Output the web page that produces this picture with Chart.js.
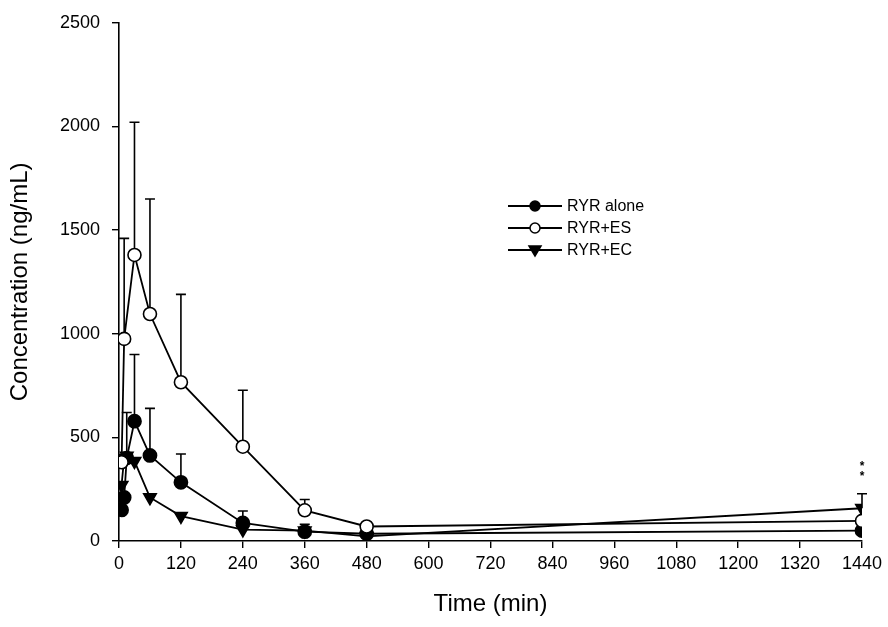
<!DOCTYPE html>
<html>
<head>
<meta charset="utf-8">
<script src="https://cdn.jsdelivr.net/npm/chart.js@4/dist/chart.umd.min.js"></script>
<style>
html, body { margin: 0; background: #fff; }
#wrap { width: 888px; height: 627px; }
</style>
</head>
<body>
<div id="wrap"><canvas id="pk"></canvas></div>
<script>
// sampling times (min)
var times = [5, 10, 15, 30, 60, 120, 240, 360, 480, 1440]

// mean concentrations (ng/mL)
var ryrAlone = [150, 210, 400, 578, 413, 283, 87, 45, 35, 50]
var ryrES    = [380, 975, null, 1380, 1095, 766, 455, 148, 70, 97]
var ryrEC    = [270, 400, 410, 385, 210, 120, 55, 50, 22, 158]

// top of the error bar (mean + SD)
var ryrAloneHi = [null, null, 620, 900, 640, 420, 145, 80, null, null]
var ryrESHi    = [null, 1460, null, 2020, 1650, 1190, 727, 200, null, null]
var ryrECHi    = [null, null, null, null, null, null, null, null, null, 228]

var yTicks = [0, 500, 1000, 1500, 2000, 2500]
var xTicks = [0, 120, 240, 360, 480, 600, 720, 840, 960, 1080, 1200, 1320, 1440]

function pts(vals) {
    var out = []
    for (var i = 0; i < times.length; i++) {
        if (vals[i] != null) out.push({x: times[i], y: vals[i]})
    }
    return out
}

var font = 'Liberation Sans, Arial, sans-serif'

var errorBars = {
    id: 'errorBars',
    beforeDatasetsDraw: function(chart) {
        var ctx = chart.ctx
        var xs = chart.scales.x, ys = chart.scales.y
        var sets = [[ryrAlone, ryrAloneHi], [ryrES, ryrESHi], [ryrEC, ryrECHi]]
        ctx.save()
        ctx.strokeStyle = '#000'
        ctx.lineWidth = 1.6
        sets.forEach(function(s) {
            for (var i = 0; i < times.length; i++) {
                if (s[1][i] == null || s[0][i] == null) continue
                var px = xs.getPixelForValue(times[i])
                var y0 = ys.getPixelForValue(s[0][i])
                var y1 = ys.getPixelForValue(s[1][i])
                ctx.beginPath()
                ctx.moveTo(px, y0)
                ctx.lineTo(px, y1)
                ctx.moveTo(px - 5, y1)
                ctx.lineTo(px + 5, y1)
                ctx.stroke()
            }
        })
        // significance mark
        var last = times.length - 1
        ctx.fillStyle = '#000'
        ctx.font = 'bold 12px ' + font
        ctx.textAlign = 'center'
        ctx.fillText('*', xs.getPixelForValue(times[last]), ys.getPixelForValue(ryrECHi[last]) - 24)
        ctx.fillText('*', xs.getPixelForValue(times[last]), ys.getPixelForValue(ryrECHi[last]) - 14)
        ctx.restore()
    }
}

var legendBox = {
    id: 'legendBox',
    afterDraw: function(chart) {
        var ctx = chart.ctx
        ctx.save()
        chart.data.datasets.forEach(function(ds, i) {
            var y = 206 + i * 22
            ctx.strokeStyle = '#000'
            ctx.lineWidth = 1.8
            ctx.beginPath()
            ctx.moveTo(508, y)
            ctx.lineTo(562, y)
            ctx.stroke()
            ctx.fillStyle = ds.pointBackgroundColor
            ctx.lineWidth = 1.5
            ctx.beginPath()
            if (ds.pointStyle === 'circle') {
                ctx.arc(535, y, 5, 0, Math.PI * 2)
            } else {
                ctx.moveTo(529, y - 4)
                ctx.lineTo(541, y - 4)
                ctx.lineTo(535, y + 6)
                ctx.closePath()
            }
            ctx.fill()
            ctx.stroke()
            ctx.fillStyle = '#000'
            ctx.font = '16px ' + font
            ctx.textBaseline = 'middle'
            ctx.fillText(ds.label, 567, y + 1)
        })
        ctx.restore()
    }
}

var ctx = document.getElementById('pk').getContext('2d')
var chart = new Chart(ctx, {
    type: 'line',
    data: {
        datasets: [{
            label: 'RYR alone',
            data: pts(ryrAlone),
            borderColor: '#000',
            borderWidth: 1.8,
            pointStyle: 'circle',
            pointRadius: 6.5,
            pointBackgroundColor: '#000',
            pointBorderColor: '#000',
            order: 2
        }, {
            label: 'RYR+ES',
            data: pts(ryrES),
            borderColor: '#000',
            borderWidth: 1.8,
            pointStyle: 'circle',
            pointRadius: 6.5,
            pointBackgroundColor: '#fff',
            pointBorderColor: '#000',
            pointBorderWidth: 1.6,
            order: 1
        }, {
            label: 'RYR+EC',
            data: pts(ryrEC),
            borderColor: '#000',
            borderWidth: 1.8,
            pointStyle: 'triangle',
            pointRotation: 180,
            pointRadius: 7,
            pointBackgroundColor: '#000',
            pointBorderColor: '#000',
            order: 3
        }]
    },
    options: {
        responsive: true,
        maintainAspectRatio: false,
        animation: false,
        layout: {padding: {top: 21, right: 26, left: 0, bottom: 0}},
        plugins: {
            legend: {display: false},
            tooltip: {enabled: false}
        },
        scales: {
            x: {
                type: 'linear',
                min: 0,
                max: 1440,
                afterBuildTicks: function(s) { s.ticks = xTicks.map(function(v) { return {value: v} }) },
                afterFit: function(s) { s.height = 86 },
                border: {display: true, color: '#000', width: 1.6},
                grid: {drawOnChartArea: false, drawTicks: true, tickLength: 7, color: '#000', lineWidth: 1.4},
                ticks: {color: '#000', font: {family: font, size: 18}, padding: 5, maxRotation: 0, autoSkip: false,
                        callback: function(v) { return String(v) }},
                title: {display: true, text: 'Time (min)', color: '#000', font: {family: font, size: 24}, padding: {top: 4, bottom: 8}}
            },
            y: {
                min: 0,
                max: 2500,
                afterBuildTicks: function(s) { s.ticks = yTicks.map(function(v) { return {value: v} }) },
                afterFit: function(s) { s.width = 119 },
                border: {display: true, color: '#000', width: 1.6},
                grid: {drawOnChartArea: false, drawTicks: true, tickLength: 7, color: '#000', lineWidth: 1.4},
                ticks: {color: '#000', font: {family: font, size: 18}, padding: 12,
                        callback: function(v) { return String(v) }},
                title: {display: true, text: 'Concentration (ng/mL)', color: '#000', font: {family: font, size: 24}, padding: {top: 6, bottom: 4}}
            }
        }
    },
    plugins: [errorBars, legendBox]
})
</script>
</body>
</html>
